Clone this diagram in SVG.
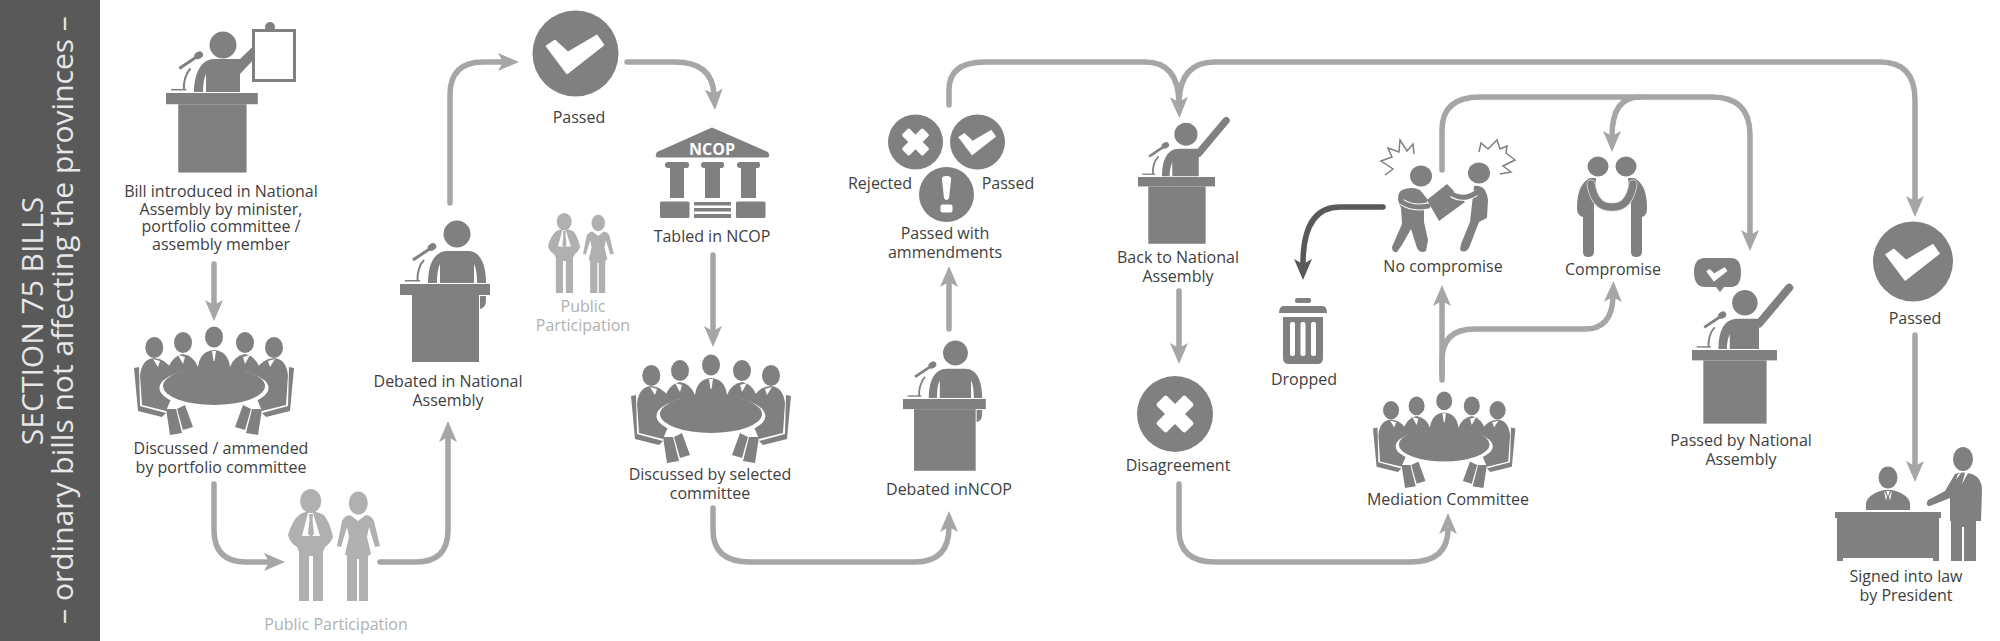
<svg xmlns="http://www.w3.org/2000/svg" xmlns:xlink="http://www.w3.org/1999/xlink" width="2000" height="641" viewBox="0 0 2000 641">
<style>
text{font-family:"Open Sans","Liberation Sans",sans-serif}
.l{font-size:16px;fill:#404040;text-anchor:middle}
.p{font-size:16px;fill:#b0b0b0;text-anchor:middle}
.c{fill:none;stroke:#a6a6a6;stroke-width:5.5;stroke-linecap:round}
.d{fill:none;stroke:#595959;stroke-width:5.5;stroke-linecap:round}
.g{fill:#808080}
.w{fill:#fff}
.side{fill:#e6e6e6;font-size:30px;text-anchor:middle}
</style>
<defs>
<marker id="a" markerUnits="userSpaceOnUse" markerWidth="24" markerHeight="20" refX="5" refY="9.5" orient="auto" viewBox="0 0 24 19"><path d="M0 0.5L21 9.5L0 18.5L5 9.5Z" fill="#a6a6a6"/></marker>
<marker id="b" markerUnits="userSpaceOnUse" markerWidth="24" markerHeight="20" refX="5" refY="9.5" orient="auto" viewBox="0 0 24 19"><path d="M0 0.5L21 9.5L0 18.5L5 9.5Z" fill="#595959"/></marker>
<g id="podium" class="g">
<rect x="0" y="0" width="90" height="11"/><rect x="12" y="11" width="67" height="67"/>
<path d="M5 -4H20V-2.5H5Z"/><path d="M17.500 -3C17 -10 19 -19 24 -24" fill="none" stroke="#808080" stroke-width="2"/>
<path d="M13 -24L31 -36" fill="none" stroke="#808080" stroke-width="3"/><ellipse cx="32" cy="-37" rx="4.500" ry="3.500" transform="rotate(-30 32 -37)"/>
</g>
<g id="speaker"><use href="#podium"/>
<circle class="g" cx="57" cy="-50" r="13.500"/>
<path class="g" d="M28 -1C28 -18 33 -33 48 -33H68C80 -33 86 -20 86 -1Z"/>
<path class="w" d="M37 -1C37 -10 38 -16 40 -20V-1ZM74 -1V-20C76 -16 77 -10 77 -1Z"/>
<path class="g" d="M80 12H86V16Q86 24 80 25Z"/></g>
<g id="raiser"><use href="#podium"/>
<circle class="g" cx="56" cy="-50" r="13.500"/>
<path class="g" d="M28 -1C28 -18 33 -33 48 -33H71V-1Z"/><path class="w" d="M37 -1C37 -8 38 -12 40 -17V-1Z"/>
<path d="M71 -28L103 -66" fill="none" stroke="#808080" stroke-width="8.500" stroke-linecap="round"/></g>
<g id="body"><path class="g" d="M0 41L5 40L6 79L32 86L28 90L4 84Z"/>
<path class="g" d="M6 48Q8 32 20 31Q32 32 37 42L42 60L32 84L8 78Z"/>
<path class="g" d="M32 82L36 108L48 106L42 82ZM43 82L49 103L59 100L51 78Z"/>
<path class="g" d="M33 44Q38 29 49 27Q60 29 64 40L64 64H34Z"/>
<path class="w" d="M19 32L24 40L26 34ZM44 28L49 37L51 30Z"/></g>
<g id="meet"><use href="#body"/><use href="#body" transform="matrix(-1 0 0 1 160 0)"/>
<ellipse class="g" cx="20.300" cy="20.500" rx="9" ry="10.500"/><ellipse class="g" cx="49" cy="15.600" rx="9" ry="10.500"/><ellipse class="g" cx="80" cy="10" rx="9" ry="10.500"/><ellipse class="g" cx="111" cy="15.600" rx="9" ry="10.500"/><ellipse class="g" cx="140" cy="20.500" rx="9" ry="10.500"/>
<path class="g" d="M64 40Q66 24 80 23Q94 24 96 40V62H64Z"/><path class="w" d="M78 24H82L80.500 34H79.500Z"/>
<ellipse cx="80" cy="61" rx="54.500" ry="20" fill="#fff"/><ellipse class="g" cx="80" cy="59" rx="51" ry="19"/></g>
<g id="couple"><path class="g" d="M11 26Q15 23 22 22Q31 23 36 26Q42 34 45 48Q42 55 37 58L35 63V112H25V67H21V112H11V63L9 58Q2 54 0 46Q4 32 11 26Z"/>
<path class="w" d="M14 47L20 24L22 24L25 24L32 47Z"/><path class="g" d="M21 25H25L24.500 31L26 45L23 48L20 45L21.500 31Z"/>
<ellipse class="g" cx="22.700" cy="12" rx="10.500" ry="12"/><ellipse class="g" cx="70.300" cy="14" rx="9.500" ry="11.500"/>
<path class="g" d="M62 26L70 32L78 26Q84 27 86 32L92 57L87 58L81 38L79 48L83 65L80 67V112H71V70H69V112H59V67L57 65L61 48L59 38L53 58L49 57L54 32Q56 27 62 26Z"/></g>
<path id="chk" class="w" d="M-29.500 -7.500L-20.500 -13.500L-7.500 -1.500L21.500 -18.500L28.500 -8.500L-8.500 20.500Z" stroke="#fff" stroke-width="1" stroke-linejoin="round"/>
<g id="cross"><rect class="w" x="-23" y="-8" width="46" height="16" rx="2.500" transform="rotate(45)"/><rect class="w" x="-23" y="-8" width="46" height="16" rx="2.500" transform="rotate(-45)"/></g>
</defs>
<rect width="2000" height="641" fill="#fff"/>
<g id="sidebar"><rect width="100" height="641" fill="#595959"/>
<text class="side" transform="translate(43 321) rotate(-90)">SECTION 75 BILLS</text>
<text class="side" transform="translate(73 320) rotate(-90)">– ordinary bills not affecting the provinces –</text></g>
<g id="connectors">
<path class="c" marker-end="url(#a)" d="M214 264V305"/>
<path class="c" marker-end="url(#a)" d="M214 484V530Q214 562 246 562H269"/>
<path class="c" marker-end="url(#a)" d="M380 562H416Q448 562 448 530V437"/>
<path class="c" marker-end="url(#a)" d="M450 203V95Q450 62 483 62H503"/>
<path class="c" marker-end="url(#a)" d="M627 62H675Q712 62 714 94"/>
<path class="c" marker-end="url(#a)" d="M713 255V331"/>
<path class="c" marker-end="url(#a)" d="M713 508V530Q713 562 750 562H915Q949 562 949 527"/>
<path class="c" marker-end="url(#a)" d="M949 329V282"/>
<path class="c" marker-end="url(#a)" d="M949 105V90Q949 62 985 62H1145Q1178 62 1179 102"/>
<path class="c" marker-end="url(#a)" d="M1179 102Q1180 62 1215 62H1880Q1915 62 1915 100V201"/>
<path class="c" marker-end="url(#a)" d="M1179 291V348"/>
<path class="c" marker-end="url(#a)" d="M1179 484V530Q1179 562 1215 562H1410Q1448 562 1448 529"/>
<path class="c" marker-end="url(#a)" d="M1442 380V301"/>
<path class="c" marker-end="url(#a)" d="M1442 375V360Q1442 329 1475 329H1585Q1612 329 1613 297"/>
<path class="c" marker-end="url(#a)" d="M1442 170V130Q1442 97 1480 97H1712Q1750 97 1750 135V235"/>
<path class="c" marker-end="url(#a)" d="M1640 97Q1612 97 1612 136"/>
<path class="d" marker-end="url(#b)" d="M1383 207H1340Q1303 207 1303 264"/>
<path class="c" marker-end="url(#a)" d="M1915 335V466"/>
</g>
<g id="n-introduced"><use href="#podium" transform="translate(166 93) scale(1.02)"/>
<circle class="g" cx="223" cy="45" r="13.500"/><path class="g" d="M194 92C194 76 200 59 214 59H231L240 59L268 32L274 38L240 74V92Z"/><path class="w" d="M203 92C203 84 204 78 206 74V92Z"/>
<circle class="g" cx="270" cy="27" r="5"/><rect x="253.500" y="30.500" width="41" height="50" fill="#fff" stroke="#808080" stroke-width="3"/>
<text class="l" x="221" y="197">Bill introduced in National</text><text class="l" x="221" y="214.500">Assembly by minister,</text><text class="l" x="221" y="232">portfolio committee /</text><text class="l" x="221" y="250">assembly member</text></g>
<g id="n-portfolio"><use href="#meet" transform="translate(134 327)"/><text class="l" x="221" y="454">Discussed / ammended</text><text class="l" x="221" y="473">by portfolio committee</text></g>
<g id="n-public1" opacity="0.62"><use href="#couple" transform="translate(288 489)"/></g>
<g id="n-public1-label"><text class="p" x="336" y="630">Public Participation</text></g>
<g id="n-debated-na"><use href="#speaker" transform="translate(400 284)"/><text class="l" x="448" y="387">Debated in National</text><text class="l" x="448" y="406">Assembly</text></g>
<g id="n-passed1"><circle class="g" cx="575.500" cy="53.500" r="43"/><use href="#chk" transform="translate(575.500 53.500)"/><text class="l" x="579" y="123">Passed</text></g>
<g id="n-public2" opacity="0.62"><use href="#couple" transform="translate(548 213) scale(.715)"/></g>
<g id="n-public2-label"><text class="p" x="583" y="311.500">Public</text><text class="p" x="583" y="331">Participation</text></g>
<g id="n-ncop"><path class="g" d="M712 127.500L768 152Q771 157 767 157.500H658Q654 157 657 152Z"/><text x="712" y="154.500" font-size="16" font-weight="700" fill="#fff" text-anchor="middle">NCOP</text>
<path class="g" d="M668 162H687Q689 162 689 165Q689 168 687 168H684V198H670V168H668Q665 168 665 165Q665 162 668 162ZM704 162H722Q724 162 724 165Q724 168 722 168H720V198H705V168H704Q701 168 701 165Q701 162 704 162ZM740 162H758Q760 162 760 165Q760 168 758 168H756V198H741V168H740Q737 168 737 165Q737 162 740 162Z"/>
<rect class="g" x="660" y="201.500" width="29.500" height="16.500" rx="1.500"/><rect class="g" x="736" y="201.500" width="29.500" height="16.500" rx="1.500"/><rect class="g" x="694" y="202" width="37" height="3.500"/><rect class="g" x="694" y="208" width="37" height="3.500"/><rect class="g" x="694" y="214" width="37" height="4"/>
<text class="l" x="712" y="242">Tabled in NCOP</text></g>
<g id="n-selected"><use href="#meet" transform="translate(631 355)"/><text class="l" x="710" y="480">Discussed by selected</text><text class="l" x="710" y="499">committee</text></g>
<g id="n-debated-ncop"><use href="#speaker" transform="translate(903 399) scale(.92)"/><text class="l" x="949" y="495">Debated inNCOP</text></g>
<g id="n-outcomes"><circle class="g" cx="915.500" cy="142" r="27.500"/><use href="#cross" transform="translate(915.500 142) scale(.64)"/>
<circle class="g" cx="977.500" cy="142" r="27.500"/><use href="#chk" transform="translate(977.500 142) scale(.64)"/>
<circle class="g" cx="946.500" cy="194.500" r="27.500"/><path class="w" d="M942 180Q941 176 946.500 176Q952 176 951 180L949 198Q948 200 946.500 200Q945 200 944 198Z"/><rect class="w" x="940.500" y="204.500" width="12" height="8" rx="2"/>
<text class="l" x="880" y="189">Rejected</text><text class="l" x="1008" y="189">Passed</text><text class="l" x="945" y="239">Passed with</text><text class="l" x="945" y="258">ammendments</text></g>
<g id="n-back"><use href="#raiser" transform="translate(1138 177) scale(.856)"/><text class="l" x="1178" y="263">Back to National</text><text class="l" x="1178" y="282">Assembly</text></g>
<g id="n-disagreement"><circle class="g" cx="1175" cy="414" r="38"/><use href="#cross" transform="translate(1175 414) scale(.88)"/><text class="l" x="1178" y="471">Disagreement</text></g>
<g id="n-dropped"><rect class="g" x="1295" y="298" width="16" height="5" rx="2"/><path class="g" d="M1283 306H1323Q1327 307 1327 313H1279Q1279 307 1283 306Z"/><path class="g" d="M1283 317H1323V358Q1323 364 1317 364H1289Q1283 364 1283 358Z"/>
<rect class="w" x="1290" y="322" width="5" height="34" rx="2"/><rect class="w" x="1300.500" y="322" width="5" height="34" rx="2"/><rect class="w" x="1311" y="322" width="5" height="34" rx="2"/>
<text class="l" x="1304" y="385">Dropped</text></g>
<g id="n-nocompromise"><ellipse class="g" cx="1421" cy="176" rx="11" ry="10.500"/><ellipse class="g" cx="1479" cy="173" rx="11" ry="10.500"/>
<path class="g" d="M1402 190Q1412 186 1420 190L1428 200L1424 208L1424 222L1428 240L1426 251Q1420 254 1417 248L1411 229L1402 245L1397 252Q1392 253 1392 247L1402 224L1401 208L1398 200Q1398 192 1402 190Z"/>
<path class="g" d="M1427 200L1447 184L1465 202L1439 221Z"/>
<path class="g" d="M1474 186Q1486 184 1488 200L1487 218L1479 222L1469 248Q1465 254 1460 250L1461 244L1470 222L1472 204Z"/>
<path d="M1402 202Q1412 209 1428 206M1452 194Q1463 201 1476 193" fill="none" stroke="#fff" stroke-width="7"/><path d="M1402 202Q1412 209 1428 206M1452 194Q1463 201 1476 193" fill="none" stroke="#808080" stroke-width="5" stroke-linecap="round"/>
<path d="M1385 175L1393 169L1381 161L1392 157L1388 148L1399 152L1400 140L1407 151L1413 144L1414 154M1479 152L1481 143L1488 149L1497 140L1500 149L1507 146L1506 153L1515 160L1503 166L1511 172L1500 174" fill="none" stroke="#808080" stroke-width="1.500"/>
<text class="l" x="1443" y="272">No compromise</text></g>
<g id="n-compromise"><ellipse class="g" cx="1598" cy="166.500" rx="10.500" ry="10"/><ellipse class="g" cx="1626" cy="166.500" rx="10.500" ry="10"/>
<path class="g" d="M1590 178Q1577 184 1577 208Q1577 216 1583 217V252Q1583 257 1588 257Q1594 257 1594 252V206L1596 178ZM1634 178Q1647 184 1647 208Q1647 216 1642 217V252Q1642 257 1636 257Q1631 257 1631 252V206L1628 178Z"/>
<path d="M1591 184Q1595 208 1612 207Q1629 208 1633 184" fill="none" stroke="#e0e0e0" stroke-width="9" stroke-linecap="round"/><path d="M1591 184Q1595 208 1612 207Q1629 208 1633 184" fill="none" stroke="#808080" stroke-width="7.500" stroke-linecap="round"/>
<text class="l" x="1613" y="275">Compromise</text></g>
<g id="n-mediation"><use href="#meet" transform="translate(1373 392) scale(.89)"/><text class="l" x="1448" y="505">Mediation Committee</text></g>
<g id="n-passedna"><use href="#raiser" transform="translate(1692 350) scale(.944)"/>
<path class="g" d="M1705 258H1731Q1741 258 1741 272Q1741 287 1731 287H1724L1720 292L1716 287H1705Q1694 287 1694 272Q1694 258 1705 258Z"/><use href="#chk" transform="translate(1717 274) scale(.36)"/>
<text class="l" x="1741" y="446">Passed by National</text><text class="l" x="1741" y="465">Assembly</text></g>
<g id="n-passed2"><circle class="g" cx="1913" cy="261.500" r="40"/><use href="#chk" transform="translate(1913 261.500) scale(.93)"/><text class="l" x="1915" y="324">Passed</text></g>
<g id="n-signed"><rect class="g" x="1835" y="512" width="106" height="6"/><rect class="g" x="1837" y="516" width="102" height="42"/><rect class="g" x="1837" y="556" width="6" height="5"/><rect class="g" x="1933" y="556" width="6" height="5"/>
<ellipse class="g" cx="1888" cy="477.500" rx="9.500" ry="11"/><path class="g" d="M1866 510V503Q1868 494 1884 490H1892Q1908 494 1910 503V510Z"/><path class="w" d="M1886 491L1888 496L1890 491ZM1884 491L1886 501L1887 496ZM1892 491L1890 501L1889 496Z"/>
<ellipse class="g" cx="1963" cy="459" rx="10" ry="12"/><path class="g" d="M1955 474Q1962 471 1972 474Q1982 478 1982 490L1981 521H1976V561H1964V527H1962V561H1951V521H1950V498L1930 506Q1926 506 1927 502Q1928 499 1932 498L1945 491Z"/><path class="w" d="M1958 474L1956 480L1961 473ZM1965 473L1962 484L1968 473Z"/>
<text class="l" x="1906" y="582">Signed into law</text><text class="l" x="1906" y="601">by President</text></g>
</svg>
